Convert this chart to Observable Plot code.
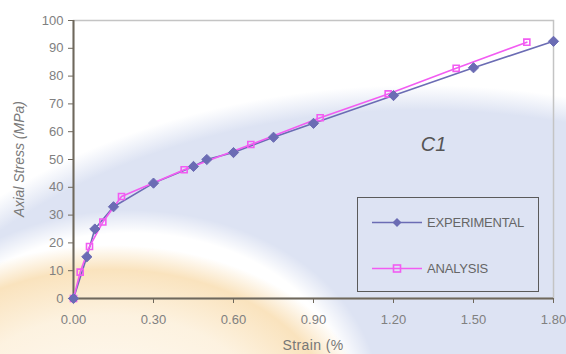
<!DOCTYPE html>
<html>
<head>
<meta charset="utf-8">
<script src="https://cdn.jsdelivr.net/npm/d3@7"></script>
<script src="https://cdn.jsdelivr.net/npm/@observablehq/plot@0.6"></script>
<style>
  html, body { margin: 0; padding: 0; background: #fff; }
  #wrap {
    position: relative; width: 566px; height: 354px; overflow: hidden;
    font-family: "Liberation Sans", Arial, sans-serif;
    background:
      radial-gradient(ellipse 260px 175px at 110px 420px, rgba(250,226,186,0.15) 0%, rgba(250,226,186,0.45) 60%, rgba(249,222,178,0.85) 86%, rgba(250,224,182,0) 100%),
      radial-gradient(ellipse 250px 190px at 130px 400px, rgba(255,255,255,1) 0%, rgba(255,255,255,1) 88%, rgba(255,255,255,0) 100%),
      radial-gradient(ellipse 620px 420px at 420px 505px, rgba(221,227,243,1) 0%, rgba(221,227,243,1) 94%, rgba(221,227,243,0) 100%),
      #ffffff;
  }
  #wrap svg { position: absolute; left: 0; top: 0; }
  .lbl { position: absolute; color: #7a7a7a; white-space: nowrap; }
</style>
</head>
<body>
<div id="wrap"></div>
<script>
// ---- data ----
const expStrain   = [0, 0.05, 0.08, 0.15, 0.30, 0.45, 0.50, 0.60, 0.75, 0.90, 1.20, 1.50, 1.80];
const expStress   = [0, 15, 25, 33, 41.5, 47.5, 50, 52.5, 58, 63, 73, 83, 92.5];
const anaStrain   = [0, 0.025, 0.06, 0.11, 0.18, 0.415, 0.665, 0.925, 1.18, 1.435, 1.70];
const anaStress   = [0, 9.5, 18.7, 27.5, 36.7, 46.3, 55.4, 65, 73.6, 82.8, 92.2];
const xTicks = [0, 0.30, 0.60, 0.90, 1.20, 1.50, 1.80];
const yTicks = [0, 10, 20, 30, 40, 50, 60, 70, 80, 90, 100];
const seriesNames = ["EXPERIMENTAL", "ANALYSIS"];
const seriesColors = ["#6b6cb4", "#f25cf2"];
const annotation = "C1";
const xLabel = "Strain (%";
const yLabel = "Axial Stress (MPa)";

const exp = expStrain.map((x, i) => ({x, y: expStress[i]}));
const ana = anaStrain.map((x, i) => ({x, y: anaStress[i]}));

const W = 566, H = 354, mL = 73, mR = 13, mT = 20, mB = 56;

const plot = Plot.plot({
  width: W, height: H,
  marginLeft: mL, marginRight: mR, marginTop: mT, marginBottom: mB,
  style: {background: "transparent", fontFamily: "'Liberation Sans', Arial, sans-serif", fontSize: "13px", color: "#808080"},
  x: {domain: [0, 1.8], ticks: xTicks, tickFormat: d3.format(".2f"), label: null, tickSize: 5, tickPadding: 11},
  y: {domain: [0, 100], ticks: yTicks, label: null, tickSize: 5, tickPadding: 5},
  marks: [
    Plot.frame({stroke: "#c4c4c4", strokeWidth: 1.5}),
    Plot.ruleX([0], {stroke: "#6f685c", strokeWidth: 2}),
    Plot.ruleY([0], {stroke: "#6f685c", strokeWidth: 2}),
    Plot.axisX({ticks: xTicks, tickFormat: d3.format(".2f"), tickSize: 5, tickPadding: 11, stroke: "#6f685c", fill: "#808080", label: null}),
    Plot.axisY({ticks: yTicks, tickSize: 5, tickPadding: 5, stroke: "#6f685c", fill: "#808080", label: null}),
    Plot.line(exp, {x: "x", y: "y", stroke: seriesColors[0], strokeWidth: 1.6}),
    Plot.line(ana, {x: "x", y: "y", stroke: seriesColors[1], strokeWidth: 1.6}),
    Plot.dot(ana, {x: "x", y: "y", symbol: "square", r: 3.4, fill: "none", stroke: seriesColors[1], strokeWidth: 1.6}),
    Plot.dot(exp, {x: "x", y: "y", symbol: "diamond2", r: 4.6, fill: seriesColors[0], stroke: seriesColors[0], strokeWidth: 1}),
    Plot.text([annotation], {x: [1.35], y: [55], dy: -1, fontSize: 20, fontStyle: "italic", fill: "#555", text: d => d})
  ]
});
const wrap = document.getElementById("wrap");
wrap.appendChild(plot);

// y label
const yl = document.createElement("div");
yl.className = "lbl";
yl.textContent = yLabel;
yl.style.cssText += "font-size:14px;font-style:italic;color:#7a7a7a;left:19px;top:159px;transform:translate(-50%,-50%) rotate(-90deg);";
wrap.appendChild(yl);

// x label
const xl = document.createElement("div");
xl.className = "lbl";
xl.textContent = xLabel;
xl.style.cssText += "font-size:14px;line-height:15px;letter-spacing:0.4px;color:#777;left:313px;top:338px;transform:translateX(-50%);";
wrap.appendChild(xl);

// legend
const leg = document.createElement("div");
leg.style.cssText = "position:absolute;left:357px;top:197px;width:182px;height:95px;border:1.6px solid #5a5a5a;box-sizing:border-box;";
seriesNames.forEach((name, i) => {
  const row = document.createElement("div");
  const top = i === 0 ? 24 : 70;
  row.style.cssText = `position:absolute;left:14px;top:${top - 9}px;height:18px;display:flex;align-items:center;`;
  const sym = i === 0
    ? `<path d="M25,4 L29.5,8.5 L25,13 L20.5,8.5 Z" fill="${seriesColors[0]}"/>`
    : `<rect x="21.5" y="5" width="7" height="7" fill="none" stroke="${seriesColors[1]}" stroke-width="1.6"/>`;
  row.innerHTML = `<svg width="50" height="17" style="position:static"><line x1="0" y1="8.5" x2="50" y2="8.5" stroke="${seriesColors[i]}" stroke-width="1.6"/>${sym}</svg><span style="margin-left:5px;font-size:13px;color:#666;letter-spacing:-0.2px">${name}</span>`;
  leg.appendChild(row);
});
wrap.appendChild(leg);
</script>
</body>
</html>
